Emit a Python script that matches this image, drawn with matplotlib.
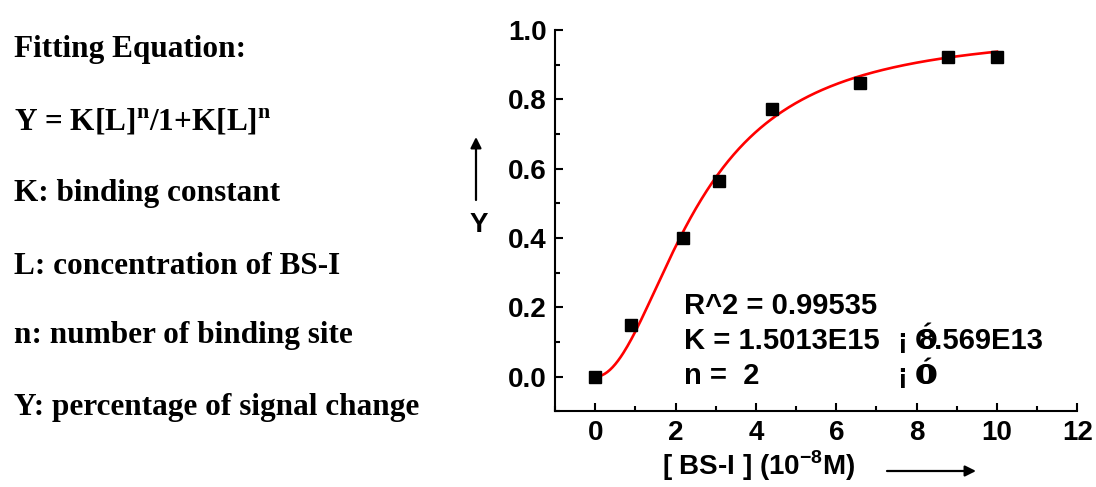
import numpy as np
import matplotlib
matplotlib.use("Agg")
import matplotlib.pyplot as plt
from matplotlib.ticker import MultipleLocator

plt.rcParams["font.family"] = ["Liberation Sans", "DejaVu Sans"]
plt.rcParams["mathtext.fontset"] = "custom"
plt.rcParams["mathtext.rm"] = "Liberation Serif:bold"
plt.rcParams["mathtext.bf"] = "Liberation Sans:bold"

# data: [BS-I] (1e-8 M) and fraction of signal change
conc = [0.0, 0.89, 2.18, 3.07, 4.39, 6.58, 8.77, 9.99]
signal = [0.0, 0.148, 0.400, 0.564, 0.771, 0.848, 0.921, 0.921]

# fit parameters shown on the chart
K_fit = 1.5013e15
n_fit = 2

left_lines = [
    "Fitting Equation:",
    "Y = K[L]$^\\mathrm{n}$/1+K[L]$^\\mathrm{n}$",
    "K: binding constant",
    "L: concentration of BS-I",
    "n: number of binding site",
    "Y: percentage of signal change",
]
left_y = [50, 122, 193, 266, 336, 408]

W, H = 1096, 487


def fx(px):
    return px / W


def fy(py):
    return 1 - py / H


# Hill curve
x_fit = np.linspace(0, 10, 300)
KL = K_fit * (x_fit * 1e-8) ** n_fit
y_fit = KL / (1 + KL)

fig = plt.figure(figsize=(W / 100, H / 100), dpi=100)
ax = fig.add_axes([fx(555), fy(411.4), fx(1077.4) - fx(555), fy(30) - fy(411.4)])

ax.plot(x_fit, y_fit, color="red", lw=1.9, zorder=2)
ax.plot(conc, signal, "s", color="black", ms=9, zorder=3)

ax.set_xlim(-1, 12)
ax.set_ylim(-0.1, 1.0)
ax.set_xticks(np.arange(0, 13, 2))
ax.set_yticks(np.arange(0, 1.01, 0.2))
ax.set_yticklabels(["0.0", "0.2", "0.4", "0.6", "0.8", "1.0"])
ax.xaxis.set_minor_locator(MultipleLocator(1))
ax.yaxis.set_minor_locator(MultipleLocator(0.1))
ax.tick_params(which="major", direction="in", length=6, width=1.5, labelsize=20, pad=6)
ax.tick_params(which="minor", direction="in", length=3.5, width=1.5)
for lab in ax.get_xticklabels() + ax.get_yticklabels():
    lab.set_fontweight("bold")
for s in ["top", "right"]:
    ax.spines[s].set_visible(False)
for s in ["left", "bottom"]:
    ax.spines[s].set_linewidth(1.5)

# fit results text (garbled +/- sign kept as in the original)
fs = 21
fig.text(fx(684), fy(306), "R^2 = 0.99535", fontsize=fs, weight="bold", va="center")
fig.text(fx(684), fy(341), "K = 1.5013E15", fontsize=fs, weight="bold", va="center")
fig.text(fx(684), fy(376), "n =  2", fontsize=fs, weight="bold", va="center")
for yy, val in [(341, "8.569E13"), (376, "0")]:
    fig.text(fx(897), fy(yy), "¡", fontsize=fs, weight="bold", va="center")
    fig.text(fx(915), fy(yy), "Ó", fontsize=fs, weight="bold", va="center")
    fig.text(fx(918), fy(yy), val, fontsize=fs, weight="bold", va="center")

# left-hand description
for txt, yy in zip(left_lines, left_y):
    fig.text(fx(14), fy(yy), txt, fontsize=22.5, weight="bold", va="center",
             family=["Liberation Serif", "DejaVu Serif"])

# axis labels with arrows
fig.text(fx(759), fy(466), "[ BS-I ] (10$^{\\mathbf{-8}}$M)", fontsize=20,
         weight="bold", ha="center", va="center")
fig.text(fx(479), fy(225), "Y", fontsize=20, weight="bold", ha="center", va="center")
arrow = dict(arrowstyle="-|>", color="black", lw=1.6, mutation_scale=16, shrinkA=0, shrinkB=0)
ax.annotate("", xy=(fx(976), fy(471)), xytext=(fx(887), fy(471)),
            xycoords="figure fraction", textcoords="figure fraction", arrowprops=arrow)
ax.annotate("", xy=(fx(476), fy(137)), xytext=(fx(476), fy(200)),
            xycoords="figure fraction", textcoords="figure fraction", arrowprops=arrow)

fig.savefig("out.png", dpi=100)
